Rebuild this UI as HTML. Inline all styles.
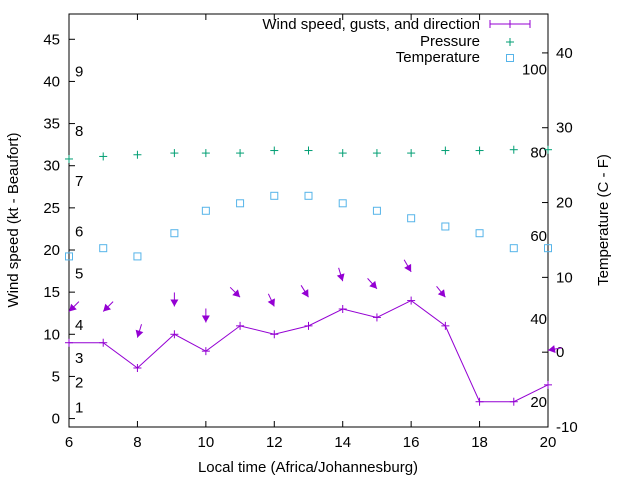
<!DOCTYPE html>
<html><head><meta charset="utf-8"><style>
html,body{margin:0;padding:0;background:#fff;}
svg{display:block;font-family:"Liberation Sans",sans-serif;}
</style></head><body>
<svg id="chart" width="640" height="480" xmlns="http://www.w3.org/2000/svg"></svg>
<script>
const hours = [6,7,8,9.08,10,11,12,13,14,15,16,17,18,19,20];
const windSpeed = [9,9,6,10,8,11,10,11,13,12,14,11,2,2,4];
const gusts = [12.7,12.7,9.6,13.3,11.4,14.4,13.3,14.4,16.3,15.4,17.4,14.4,null,null,8.1];
const windDir = [45,45,17,0,0,315,335,328,343,318,330,321,null,null,80];
const pressure = [30.8,31.1,31.3,31.5,31.5,31.5,31.8,31.8,31.5,31.5,31.5,31.8,31.8,31.9,31.9];
const temperature = [12.8,13.9,12.8,15.9,18.9,19.9,20.9,20.9,19.9,18.9,17.9,16.8,15.9,13.9,13.9];
const xTicks = [6,8,10,12,14,16,18,20];
const yTicks = [0,5,10,15,20,25,30,35,40,45];
const y2Ticks = [-10,0,10,20,30,40];
const fTicks = [20,40,60,80,100];
const beaufortLabels = ['1','2','3','4','5','6','7','8','9'];
const beaufortKt = [1.3,4.3,7.2,11.1,17.2,22.2,28.2,34.1,41.2];

const L=69,R=548,T=14,B=427;
const X=v=>L+(v-6)/(20-6)*(R-L);
const Y=v=>B-(v+1)/(48+1)*(B-T);
const Y2=v=>B-(v+10)/(45.2+10)*(B-T);
const svg=document.getElementById('chart');
const NS='http://www.w3.org/2000/svg';
function mk(tag,attrs,parent){const e=document.createElementNS(NS,tag);for(const k in attrs)e.setAttribute(k,attrs[k]);(parent||svg).appendChild(e);return e;}
function txt(s,x,y,anchor,parent,size){const e=mk('text',{x:x,y:y,'text-anchor':anchor,'font-size':size||15,fill:'#000'},parent);e.textContent=s;return e;}

// frame
const frame=mk('rect',{x:L,y:T,width:R-L,height:B-T,fill:'none',stroke:'#000','stroke-width':1});



const gx=mk('g',{});


xTicks.forEach(t=>{const x=X(t);mk('line',{x1:x,x2:x,y1:B,y2:B-6,stroke:'#000'},gx);mk('line',{x1:x,x2:x,y1:T,y2:T+6,stroke:'#000'},gx);txt(String(t),x,447,'middle',gx);});
const gy=mk('g',{});


yTicks.forEach(t=>{const y=Y(t);mk('line',{x1:L,x2:L+6,y1:y,y2:y,stroke:'#000'},gy);txt(String(t),60,y+5,'end',gy);});
const gy2=mk('g',{});


y2Ticks.forEach(t=>{const y=Y2(t);mk('line',{x1:R,x2:R-6,y1:y,y2:y,stroke:'#000'},gy2);txt(String(t),556,y+5,'start',gy2);});
const gf=mk('g',{});


fTicks.forEach(f=>{txt(String(f),547,Y2((f-32)*5/9)+5,'end',gf);});
const gb=mk('g',{});


beaufortLabels.forEach((s,i)=>{txt(s,75,Y(beaufortKt[i])+5,'start',gb);});

// titles
const xt=txt('Local time (Africa/Johannesburg)',308,472,'middle');

const yt=txt('Wind speed (kt - Beaufort)',0,0,'middle');
yt.setAttribute('transform','translate(18,220) rotate(-90)');

const yt2=txt('Temperature (C - F)',0,0,'middle');
yt2.setAttribute('transform','translate(608,220) rotate(-90)');


const purple='#9400d3',green='#009e73',blue='#56b4e9';
// wind line
const pts=hours.map((h,i)=>X(h)+','+Y(windSpeed[i]));
const wl=mk('polyline',{points:'69,'+Y(windSpeed[0])+' '+pts.join(' '),fill:'none',stroke:purple,'stroke-width':1});

hours.forEach((h,i)=>{const g=mk('g',{stroke:purple,'stroke-width':1});

const x=X(h),y=Y(windSpeed[i]);mk('line',{x1:x-4,x2:x+4,y1:y,y2:y},g);mk('line',{x1:x,x2:x,y1:y-4,y2:y+4},g);});
// gust arrows
hours.forEach((h,i)=>{if(gusts[i]==null)return;const hx=X(h),hy=Y(gusts[i]);const a=windDir[i]*Math.PI/180;
const tx=hx+14*Math.sin(a),ty=hy-14*Math.cos(a);const g=mk('g',{});

mk('line',{x1:tx,y1:ty,x2:hx,y2:hy,stroke:purple,'stroke-width':1},g);
const ux=(hx-tx)/14,uy=(hy-ty)/14,px=-uy,py=ux;
const bx=hx-ux*7,by=hy-uy*7;
mk('polygon',{points:`${hx},${hy} ${bx+px*4},${by+py*4} ${bx-px*4},${by-py*4}`,fill:purple},g);});
// pressure
hours.forEach((h,i)=>{const g=mk('g',{stroke:green,'stroke-width':1});

const x=X(h),y=Y(pressure[i]);mk('line',{x1:x-4,x2:x+4,y1:y,y2:y},g);mk('line',{x1:x,x2:x,y1:y-4,y2:y+4},g);});
// temperature
hours.forEach((h,i)=>{const r=mk('rect',{x:X(h)-3.5,y:Y2(temperature[i])-3.5,width:7,height:7,fill:'none',stroke:blue,'stroke-width':1});
});

// legend
const lg=mk('g',{});

txt('Wind speed, gusts, and direction',480,29,'end',lg);
mk('line',{x1:490,x2:530,y1:24,y2:24,stroke:purple},lg);
mk('line',{x1:490,x2:490,y1:20,y2:28,stroke:purple},lg);
mk('line',{x1:530,x2:530,y1:20,y2:28,stroke:purple},lg);
mk('line',{x1:510,x2:510,y1:20,y2:28,stroke:purple},lg);
txt('Pressure',480,46,'end',lg);
mk('line',{x1:506,x2:514,y1:42,y2:42,stroke:green},lg);
mk('line',{x1:510,x2:510,y1:38,y2:46,stroke:green},lg);
txt('Temperature',480,62,'end',lg);
mk('rect',{x:506.5,y:54.5,width:7,height:7,fill:'none',stroke:blue},lg);
</script>
</body></html>
